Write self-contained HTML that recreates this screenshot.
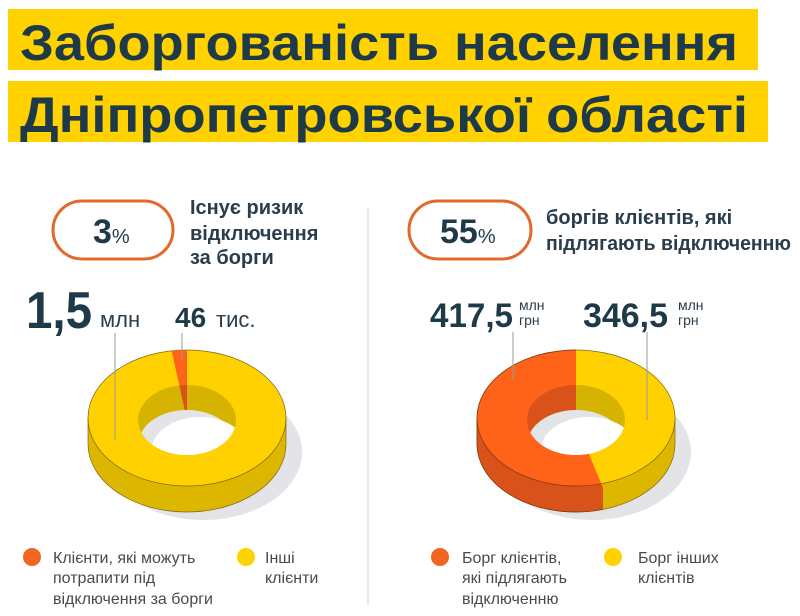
<!DOCTYPE html>
<html><head><meta charset="utf-8"><style>
html,body{margin:0;padding:0;background:#fff;}
body{width:800px;height:611px;overflow:hidden;position:relative;font-family:"Liberation Sans",sans-serif;}
</style></head><body>
<svg width="800" height="611" viewBox="0 0 800 611" xmlns="http://www.w3.org/2000/svg" font-family="Liberation Sans, sans-serif">
<defs>
<clipPath id="holeL"><ellipse cx="187" cy="420" rx="49" ry="35"/></clipPath>
<clipPath id="holeR"><ellipse cx="576" cy="420" rx="49" ry="35"/></clipPath>
<clipPath id="orR"><polygon points="400,300 576,300 576,420 590,457 603,488 603,560 400,560"/></clipPath>
<clipPath id="orL"><polygon points="187,420 187,330 167,330"/></clipPath>
<g id="dl">
<path d="M88,418 L88,444 A99,68 0 0 0 286,444 L286,418 Z" fill="#DDB600" stroke="#7a6a10" stroke-width="0.7"/>
<ellipse cx="187" cy="418" rx="99" ry="68" fill="#FFD100" stroke="#7a6a10" stroke-width="0.7"/>
<ellipse cx="187" cy="420" rx="49" ry="35" fill="#D6B300"/>
</g>
</defs>
<rect x="8" y="9" width="750" height="61" fill="#FFD200"/>
<rect x="8" y="81" width="760" height="61" fill="#FFD200"/>
<text x="20" y="60" font-size="50" font-weight="bold" fill="#1E3A48" textLength="718" lengthAdjust="spacingAndGlyphs">Заборгованість населення</text>
<text x="20" y="132" font-size="50" font-weight="bold" fill="#1E3A48" textLength="728" lengthAdjust="spacingAndGlyphs">Дніпропетровської області</text>

<rect x="53" y="201" width="120" height="58" rx="29" fill="none" stroke="#E2692C" stroke-width="3"/>
<text x="93" y="243" font-size="34" font-weight="bold" fill="#1E3A48">3<tspan font-size="20" font-weight="normal">%</tspan></text>
<g font-size="20" font-weight="bold" fill="#2A3D4C">
<text x="190" y="214">Існує ризик</text>
<text x="190" y="240">відключення</text>
<text x="190" y="264">за борги</text>
</g>
<rect x="409" y="201" width="122" height="58" rx="29" fill="none" stroke="#E2692C" stroke-width="3"/>
<text x="440" y="243" font-size="34" font-weight="bold" fill="#1E3A48">55<tspan font-size="20" font-weight="normal">%</tspan></text>
<g font-size="20" font-weight="bold" fill="#2A3D4C">
<text x="546" y="224">боргів клієнтів, які</text>
<text x="546" y="250" textLength="245" lengthAdjust="spacingAndGlyphs">підлягають відключенню</text>
</g>
<line x1="368" y1="208" x2="368" y2="605" stroke="#d0d0d0" stroke-width="1"/>

<text x="26" y="328" font-size="52" font-weight="bold" fill="#1E3A48" textLength="66" lengthAdjust="spacingAndGlyphs">1,5</text>
<text x="100" y="327" font-size="22" fill="#2A3D4C">млн</text>
<text x="175" y="327" font-size="28" font-weight="bold" fill="#1E3A48">46</text>
<text x="216" y="327" font-size="22" fill="#2A3D4C">тис.</text>

<text x="430" y="327" font-size="34" font-weight="bold" fill="#1E3A48" textLength="83" lengthAdjust="spacingAndGlyphs">417,5</text>
<text x="519" y="310" font-size="14" fill="#2A3D4C">млн</text>
<text x="519" y="325" font-size="14" fill="#2A3D4C">грн</text>
<text x="583" y="327" font-size="34" font-weight="bold" fill="#1E3A48" textLength="85" lengthAdjust="spacingAndGlyphs">346,5</text>
<text x="678" y="310" font-size="14" fill="#2A3D4C">млн</text>
<text x="678" y="325" font-size="14" fill="#2A3D4C">грн</text>

<ellipse cx="203" cy="452" rx="99" ry="68" fill="#E2E4E7"/>
<ellipse cx="592" cy="452" rx="99" ry="68" fill="#E2E4E7"/>

<use href="#dl"/>
<g clip-path="url(#orL)">
<ellipse cx="187" cy="418" rx="99" ry="68" fill="#FF6319"/>
<ellipse cx="187" cy="420" rx="49" ry="35" fill="#D9521A"/>
</g>
<g clip-path="url(#holeL)">
<ellipse cx="187" cy="445" rx="49" ry="35" fill="#E2E4E7"/>
<ellipse cx="200" cy="452" rx="49" ry="35" fill="#fff"/>
</g>

<g transform="translate(389,0)"><use href="#dl"/></g>
<g clip-path="url(#orR)">
<path d="M477,418 L477,444 A99,68 0 0 0 675,444 L675,418 Z" fill="#D9521A" stroke="#7a3a10" stroke-width="0.7"/>
<ellipse cx="576" cy="418" rx="99" ry="68" fill="#FF6319" stroke="#7a3a10" stroke-width="0.7"/>
<ellipse cx="576" cy="420" rx="49" ry="35" fill="#D9521A"/>
</g>
<g clip-path="url(#holeR)">
<ellipse cx="576" cy="445" rx="49" ry="35" fill="#E2E4E7"/>
<ellipse cx="589" cy="452" rx="49" ry="35" fill="#fff"/>
</g>

<g stroke="#9a9a9a" stroke-width="1">
<line x1="115" y1="333" x2="115" y2="440"/>
<line x1="182" y1="333" x2="182" y2="360"/>
<line x1="513" y1="332" x2="513" y2="380"/>
<line x1="647" y1="332" x2="647" y2="420"/>
</g>

<circle cx="32" cy="557" r="9" fill="#F26522"/>
<circle cx="246" cy="557" r="9" fill="#FFD200"/>
<circle cx="440" cy="557" r="9" fill="#F26522"/>
<circle cx="613" cy="557" r="9" fill="#FFD200"/>
<g font-size="16" fill="#4a4a4a">
<text x="53" y="563">Клієнти, які можуть</text>
<text x="53" y="583">потрапити під</text>
<text x="53" y="604">відключення за борги</text>
<text x="265" y="563">Інші</text>
<text x="265" y="583">клієнти</text>
<text x="462" y="563">Борг клієнтів,</text>
<text x="462" y="583">які підлягають</text>
<text x="462" y="604">відключенню</text>
<text x="638" y="563">Борг інших</text>
<text x="638" y="583">клієнтів</text>
</g>
</svg>
</body></html>
